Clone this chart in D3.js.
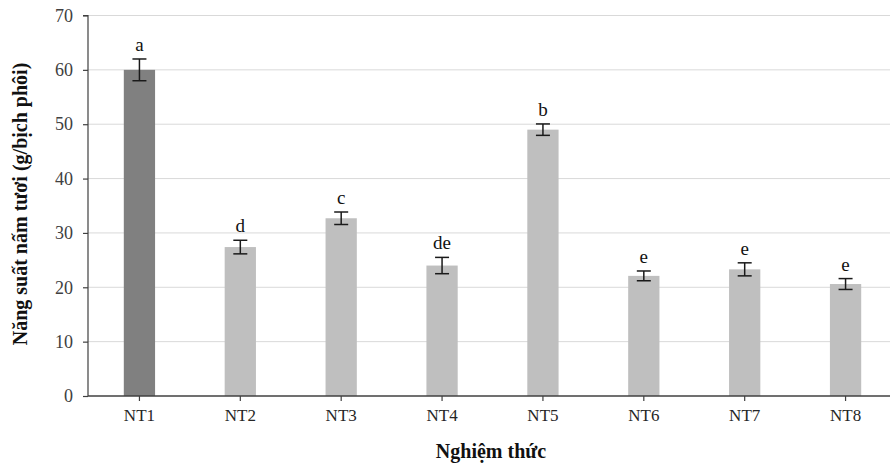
<!DOCTYPE html>
<html>
<head>
<meta charset="utf-8">
<script src="https://cdn.jsdelivr.net/npm/d3@7"></script>
<style>
  html, body { margin: 0; padding: 0; background: #fff; }
  svg { display: block; }
  text { font-family: "Liberation Serif", "Times New Roman", serif; }
</style>
</head>
<body>
<svg id="chart" width="890" height="466"></svg>
<script>
const categories = ["NT1", "NT2", "NT3", "NT4", "NT5", "NT6", "NT7", "NT8"];
const values = [60.0, 27.4, 32.7, 24.0, 49.0, 22.1, 23.3, 20.6];
const errors = [2.0, 1.25, 1.15, 1.5, 1.05, 0.9, 1.2, 1.0];
const letters = ["a", "d", "c", "de", "b", "e", "e", "e"];
const yTicks = [0, 10, 20, 30, 40, 50, 60, 70];
const xTitle = "Nghiệm thức";
const yTitle = "Năng suất nấm tươi (g/bịch phôi)";

(function () {
const svg = d3.select("#chart");
const mLeft = 88, mTop = 15.5, mBottom = 396, mRight = 890;

const x = d3.scaleBand().domain(categories).range([89, 896])
  .paddingInner(0.69).paddingOuter(0.345);
const y = d3.scaleLinear().domain([0, 70]).range([mBottom, mTop]);

// gridlines
svg.append("g").selectAll("line").data(yTicks.filter(d => d > 0)).join("line")
  .attr("x1", mLeft).attr("x2", mRight)
  .attr("y1", d => y(d)).attr("y2", d => y(d))
  .attr("stroke", "#d9d9d9").attr("stroke-width", 1);

// bars
svg.append("g").selectAll("rect").data(categories).join("rect")
  .attr("x", d => x(d))
  .attr("y", (d, i) => y(values[i]))
  .attr("width", x.bandwidth())
  .attr("height", (d, i) => y(0) - y(values[i]))
  .attr("fill", (d, i) => i === 0 ? "#808080" : "#bfbfbf");

// error bars
const eb = svg.append("g").attr("stroke", "#1a1a1a").attr("stroke-width", 1.5);
const capW = 7;
categories.forEach((c, i) => {
  const cx = x(c) + x.bandwidth() / 2;
  const yt = y(values[i] + errors[i]), yb = y(values[i] - errors[i]);
  eb.append("line").attr("x1", cx).attr("x2", cx).attr("y1", yt).attr("y2", yb);
  eb.append("line").attr("x1", cx - capW).attr("x2", cx + capW).attr("y1", yt).attr("y2", yt);
  eb.append("line").attr("x1", cx - capW).attr("x2", cx + capW).attr("y1", yb).attr("y2", yb);
});

// letters
svg.append("g").selectAll("text").data(categories).join("text")
  .attr("x", d => x(d) + x.bandwidth() / 2)
  .attr("y", (d, i) => y(values[i] + errors[i]) - 8)
  .attr("text-anchor", "middle")
  .attr("font-size", 19)
  .attr("fill", "#111")
  .text((d, i) => letters[i]);

// y axis
const yAxis = d3.axisLeft(y).tickValues(yTicks).tickSize(5).tickPadding(10).tickFormat(d3.format("d"));
const gy = svg.append("g").attr("transform", `translate(${mLeft},0)`).call(yAxis);
gy.select(".domain").attr("stroke", "#404040").attr("stroke-width", 1.2).attr("d", `M-5,${mTop}H0V${mBottom}`);
gy.selectAll(".tick line").attr("stroke", "#404040").attr("stroke-width", 1.2);
gy.selectAll(".tick text").attr("font-size", 18).attr("fill", "#404040")
  .attr("font-family", "Liberation Serif, Times New Roman, serif");

// x axis
const xAxis = d3.axisBottom(x).tickSize(5).tickPadding(8).tickSizeOuter(0);
const gx = svg.append("g").attr("transform", `translate(0,${mBottom})`).call(xAxis);
gx.select(".domain").attr("stroke", "#404040").attr("stroke-width", 1.5).attr("d", `M${mLeft},0H${mRight}`);
gx.selectAll(".tick line").attr("stroke", "#404040").attr("stroke-width", 1.2);
gx.selectAll(".tick text").attr("font-size", 17).attr("fill", "#262626")
  .attr("font-family", "Liberation Serif, Times New Roman, serif");

// titles
svg.append("text").attr("x", 491).attr("y", 458).attr("text-anchor", "middle")
  .attr("font-size", 20).attr("font-weight", "bold").attr("fill", "#111").text(xTitle);
svg.append("text").attr("transform", `translate(27,204) rotate(-90)`).attr("text-anchor", "middle")
  .attr("font-size", 20).attr("font-weight", "bold").attr("fill", "#111").text(yTitle);
})();
</script>
</body>
</html>
